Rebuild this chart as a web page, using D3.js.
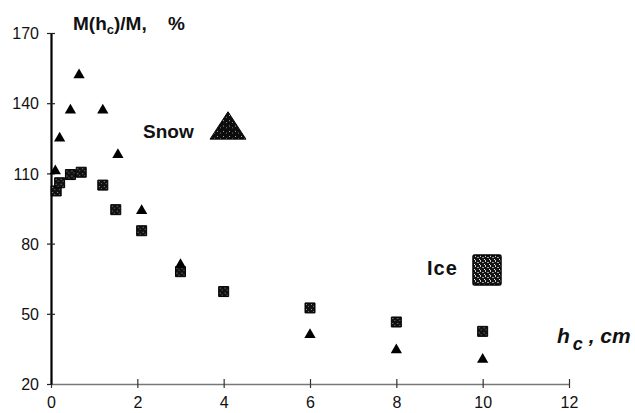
<!DOCTYPE html>
<html>
<head>
<meta charset="utf-8">
<script src="https://cdn.jsdelivr.net/npm/d3@7"></script>
<style>
  html, body { margin: 0; padding: 0; background: #fff; }
  svg { display: block; font-family: "Liberation Sans", Arial, sans-serif; }
</style>
</head>
<body>
<svg id="chart" width="635" height="413"></svg>
<script>
// ---- data ----
const snowX = [0.1, 0.2, 0.45, 0.65, 1.2, 1.55, 2.1, 3, 6, 8, 10];
const snowY = [111, 125, 137, 152, 137, 118, 94, 71, 41, 34.5, 30.5];
const iceX  = [0.12, 0.2, 0.45, 0.7, 1.2, 1.5, 2.1, 3, 4, 6, 8, 10];
const iceY  = [102.5, 106, 109.5, 110.5, 105, 94.5, 85.5, 68, 59.5, 52.5, 46.5, 42.5];
const xTicks = [0, 2, 4, 6, 8, 10, 12];
const yTicks = [20, 50, 80, 110, 140, 170];

const svg = d3.select("#chart");
const x = d3.scaleLinear().domain([0, 12]).range([51, 569]);
const y = d3.scaleLinear().domain([20, 170]).range([384, 33]);

// speckle patterns for markers
const defs = svg.append("defs");
const pat = defs.append("pattern").attr("id", "speck")
  .attr("width", 5).attr("height", 5).attr("patternUnits", "userSpaceOnUse");
pat.append("rect").attr("width", 5).attr("height", 5).attr("fill", "#111");
pat.append("rect").attr("x", 1).attr("y", 1).attr("width", 1).attr("height", 1).attr("fill", "#999");
pat.append("rect").attr("x", 3).attr("y", 3).attr("width", 1).attr("height", 1).attr("fill", "#777");
const pat2 = defs.append("pattern").attr("id", "speck2")
  .attr("width", 6).attr("height", 6).attr("patternUnits", "userSpaceOnUse");
pat2.append("rect").attr("width", 6).attr("height", 6).attr("fill", "#0d0d0d");
pat2.append("rect").attr("x", 1).attr("y", 1).attr("width", 1).attr("height", 1).attr("fill", "#bbb");
pat2.append("rect").attr("x", 4).attr("y", 3).attr("width", 1).attr("height", 1).attr("fill", "#888");
const pat3 = defs.append("pattern").attr("id", "speck3")
  .attr("width", 5).attr("height", 5).attr("patternUnits", "userSpaceOnUse");
pat3.append("rect").attr("width", 5).attr("height", 5).attr("fill", "#141414");
pat3.append("rect").attr("x", 0).attr("y", 0).attr("width", 1).attr("height", 2).attr("fill", "#ccc");
pat3.append("rect").attr("x", 2).attr("y", 2).attr("width", 2).attr("height", 1).attr("fill", "#999");
pat3.append("rect").attr("x", 4).attr("y", 4).attr("width", 1).attr("height", 1).attr("fill", "#eee");

// x axis
const xAxis = d3.axisBottom(x).tickValues(xTicks).tickSize(0).tickFormat(d3.format("d"));
const gx = svg.append("g").attr("transform", `translate(0,${y(20)})`).call(xAxis);
gx.select(".domain").attr("stroke", "#777").attr("stroke-width", 1.5);
gx.selectAll(".tick line").remove();
gx.selectAll(".tick").append("line")
  .attr("y1", -5).attr("y2", 4).attr("stroke", "#333").attr("stroke-width", 1.2);
gx.selectAll(".tick text")
  .attr("y", 24).attr("dy", 0)
  .attr("font-size", 16).attr("fill", "#111")
  .attr("font-family", "'Liberation Sans', Arial, sans-serif");

// y axis
const yAxis = d3.axisLeft(y).tickValues(yTicks).tickSize(0).tickFormat(d3.format("d"));
const gy = svg.append("g").attr("transform", `translate(${x(0)},0)`).call(yAxis);
gy.select(".domain").attr("stroke", "#000").attr("stroke-width", 2.2);
gy.selectAll(".tick line").remove();
gy.selectAll(".tick").append("line")
  .attr("x1", -4).attr("x2", 4).attr("stroke", "#222").attr("stroke-width", 1.2);
gy.selectAll(".tick text")
  .attr("x", -12).attr("dy", "0.35em")
  .attr("font-size", 16).attr("fill", "#111")
  .attr("font-family", "'Liberation Sans', Arial, sans-serif");
gy.select(".tick:first-of-type line").attr("x2", 0);

// markers: ice squares
const sq = d3.symbol(d3.symbolSquare, 100);
svg.append("g").selectAll("path").data(iceX.map((v, i) => [v, iceY[i]])).join("path")
  .attr("d", sq)
  .attr("transform", d => `translate(${x(d[0])},${y(d[1])})`)
  .attr("fill", "url(#speck)").attr("stroke", "#000").attr("stroke-width", 1);

// markers: snow triangles
const tri = d3.symbol(d3.symbolTriangle, 55);
svg.append("g").selectAll("path").data(snowX.map((v, i) => [v, snowY[i]])).join("path")
  .attr("d", tri)
  .attr("transform", d => `translate(${x(d[0])},${y(d[1])})`)
  .attr("fill", "#000");

// axis titles
const t1 = svg.append("text").attr("x", 73).attr("y", 30)
  .attr("font-size", 19).attr("font-weight", "bold").attr("fill", "#111");
t1.append("tspan").text("M(h");
t1.append("tspan").attr("font-size", 13).attr("dy", 4).text("c");
t1.append("tspan").attr("dy", -4).text(")/M,");
svg.append("text").attr("x", 168).attr("y", 30)
  .attr("font-size", 19).attr("font-weight", "bold").attr("fill", "#111").text("%");

const t2 = svg.append("text").attr("x", 557).attr("y", 343)
  .attr("font-size", 21).attr("font-weight", "bold").attr("font-style", "italic").attr("fill", "#111");
t2.append("tspan").text("h");
t2.append("tspan").attr("dx", 3).attr("dy", 7).attr("font-size", 18).text("c");
t2.append("tspan").attr("dy", -7).text(" , cm");

// legend labels
svg.append("text").attr("x", 143).attr("y", 138)
  .attr("font-size", 19).attr("font-weight", "bold").attr("fill", "#111").text("Snow");
svg.append("path")
  .attr("d", d3.symbol(d3.symbolTriangle, 560)())
  .attr("transform", "translate(228,130) scale(1,0.88)")
  .attr("fill", "url(#speck2)").attr("stroke", "#000").attr("stroke-width", 1);

svg.append("text").attr("x", 427).attr("y", 275)
  .attr("font-size", 20).attr("font-weight", "bold").attr("letter-spacing", 1).attr("fill", "#111").text("Ice");
svg.append("rect").attr("x", 473).attr("y", 255).attr("width", 28).attr("height", 30)
  .attr("fill", "url(#speck3)").attr("stroke", "#000").attr("stroke-width", 1.5).attr("rx", 1.5);
</script>
</body>
</html>
